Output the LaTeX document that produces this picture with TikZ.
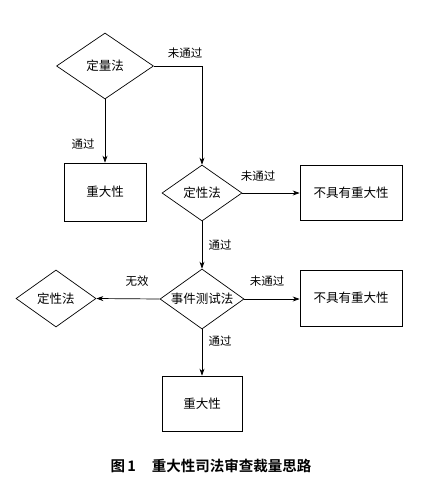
\documentclass[tikz,border=0pt]{standalone}
\usepackage{fontspec}
\setmainfont{Noto Sans CJK SC}
\newfontfamily\cjkbold{Noto Sans CJK SC Bold}
\usetikzlibrary{shapes.geometric,arrows.meta}
\begin{document}
\begin{tikzpicture}[x=1pt,y=-1pt,
  font=\fontsize{12.5}{14}\selectfont,
  dia/.style={draw,diamond,inner sep=0pt,shape aspect=1,label={center:#1}},
  box/.style={draw,rectangle,inner sep=0pt},
  conn/.style={-{Stealth[length=7pt,width=5pt]},line width=0.7pt},
  lbl/.style={font=\fontsize{11.5}{13}\selectfont,inner sep=1pt},
  line width=0.7pt]
\useasboundingbox (0,0) rectangle (426,488);
\node[dia=定量法,minimum width=97,minimum height=66] (d1) at (105,66) {};
\node[box,minimum width=82,minimum height=58] (b1) at (105,192) {重大性};
\node[dia=定性法,minimum width=80,minimum height=56] (d2) at (202,193) {};
\node[box,minimum width=102,minimum height=55] (b2) at (351,192.5) {不具有重大性};
\node[dia=事件测试法,minimum width=84,minimum height=60] (d3) at (202,299) {};
\node[dia=定性法,minimum width=80,minimum height=57] (d4) at (56,298.5) {};
\node[box,minimum width=102,minimum height=56] (b3) at (351,298) {不具有重大性};
\node[box,minimum width=80,minimum height=55] (b4) at (202,403.5) {重大性};
\coordinate (c1) at (202,66);
\draw[conn] (d1.east) -- (c1) -- (d2.north);
\draw[conn] (d1.south) -- (b1.north);
\draw[conn] (d2.east) -- (b2.west |- d2.east);
\draw[conn] (d2.south) -- (d3.north);
\draw[conn] (d3.west) -- (d4.east);
\draw[conn] (d3.east) -- (b3.west |- d3.east);
\draw[conn] (d3.south) -- (b4.north);
\node[lbl] (l1) at (185,53) {未通过};
\node[lbl] (l2) at (83,144) {通过};
\node[lbl] (l3) at (258,176) {未通过};
\node[lbl] (l4) at (220,245) {通过};
\node[lbl] (l5) at (137,281) {无效};
\node[lbl] (l6) at (267,281) {未通过};
\node[lbl] (l7) at (220,341) {通过};
\node[font=\fontsize{14.5}{16}\selectfont\cjkbold] (cap) at (211,466) {图\,1\hspace{1.1em}重大性司法审查裁量思路};
\end{tikzpicture}
\end{document}
